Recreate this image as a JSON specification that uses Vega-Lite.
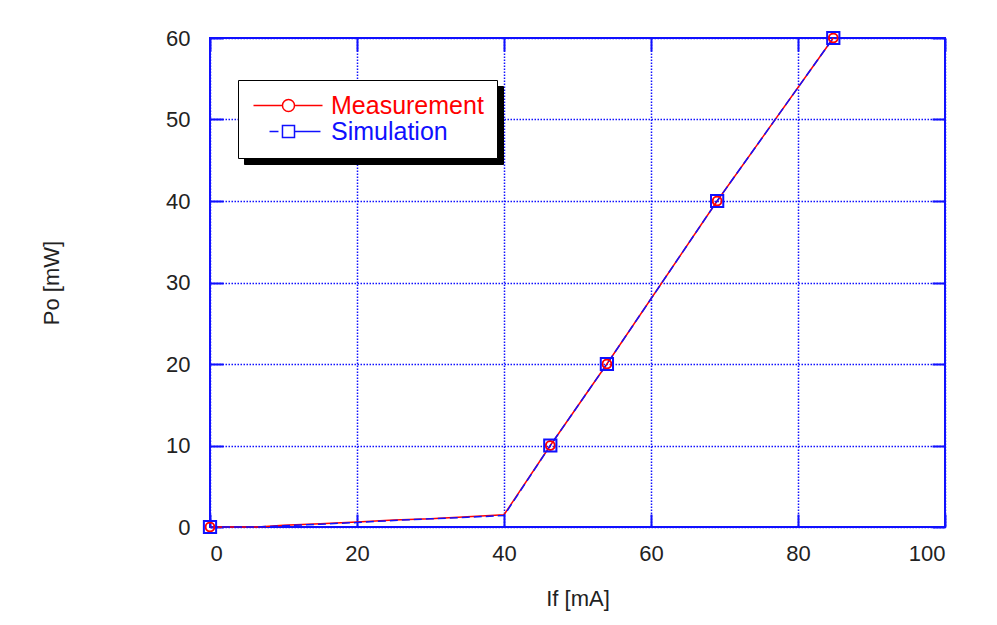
{
  "$schema": "https://vega.github.io/schema/vega-lite/v6.json",
  "autosize": "none",
  "width": 735,
  "height": 489,
  "padding": {"left": 210, "top": 38, "right": 52, "bottom": 98},
  "background": "white",
  "config": {
    "font": "Liberation Sans",
    "view": {"stroke": "#1010ff", "strokeWidth": 2},
    "axis": {
      "labelFont": "Liberation Sans",
      "titleFont": "Liberation Sans",
      "labelFontSize": 22,
      "titleFontSize": 22,
      "titleFontWeight": "normal",
      "labelColor": "#222222",
      "titleColor": "#222222",
      "domain": false,
      "tickColor": "#1010ff",
      "tickWidth": 2,
      "tickSize": -13,
      "gridColor": "#1010ff",
      "gridDash": [1.5, 1.5],
      "gridWidth": 1.5,
      "gridOpacity": 1
    }
  },
  "data": {
    "values": [
      {"series": "Measurement", "x": 0, "y": 0, "m": 1},
      {"series": "Measurement", "x": 6.5, "y": 0, "m": 0},
      {"series": "Measurement", "x": 10, "y": 0.2, "m": 0},
      {"series": "Measurement", "x": 15, "y": 0.4, "m": 0},
      {"series": "Measurement", "x": 20, "y": 0.6, "m": 0},
      {"series": "Measurement", "x": 25, "y": 0.85, "m": 0},
      {"series": "Measurement", "x": 30, "y": 1.0, "m": 0},
      {"series": "Measurement", "x": 35, "y": 1.25, "m": 0},
      {"series": "Measurement", "x": 40, "y": 1.5, "m": 0},
      {"series": "Measurement", "x": 46.3, "y": 10, "m": 1},
      {"series": "Measurement", "x": 54, "y": 20, "m": 1},
      {"series": "Measurement", "x": 69, "y": 40, "m": 1},
      {"series": "Measurement", "x": 84.8, "y": 60, "m": 1},
      {"series": "Simulation", "x": 0, "y": 0, "m": 1},
      {"series": "Simulation", "x": 6.5, "y": 0, "m": 0},
      {"series": "Simulation", "x": 10, "y": 0.15, "m": 0},
      {"series": "Simulation", "x": 15, "y": 0.35, "m": 0},
      {"series": "Simulation", "x": 20, "y": 0.55, "m": 0},
      {"series": "Simulation", "x": 25, "y": 0.8, "m": 0},
      {"series": "Simulation", "x": 30, "y": 1.0, "m": 0},
      {"series": "Simulation", "x": 35, "y": 1.2, "m": 0},
      {"series": "Simulation", "x": 40, "y": 1.4, "m": 0},
      {"series": "Simulation", "x": 46.3, "y": 10, "m": 1},
      {"series": "Simulation", "x": 54, "y": 20, "m": 1},
      {"series": "Simulation", "x": 69, "y": 40, "m": 1},
      {"series": "Simulation", "x": 84.8, "y": 60, "m": 1}
    ]
  },
  "resolve": {"axis": {"x": "independent", "y": "independent"}},
  "layer": [
    {
      "transform": [{"filter": "datum.series == 'Measurement'"}],
      "mark": {"type": "line", "strokeWidth": 1.5, "clip": false},
      "encoding": {
        "x": {"field": "x", "type": "quantitative", "scale": {"domain": [0, 100], "nice": false},
              "axis": {"orient": "bottom", "title": "If [mA]", "values": [0, 20, 40, 60, 80, 100], "labelPadding": 29, "titlePadding": 24}},
        "y": {"field": "y", "type": "quantitative", "scale": {"domain": [0, 60], "nice": false},
              "axis": {"orient": "left", "title": "Po [mW]", "values": [0, 10, 20, 30, 40, 50, 60], "labelPadding": 33, "titlePadding": 102}},
        "color": {"field": "series", "type": "nominal", "scale": {"domain": ["Simulation", "Measurement"], "range": ["#1010ff", "#ff0000"]},
          "legend": {
            "orient": "none", "legendX": 34, "legendY": 48, "title": null,
            "padding": 13, "fillColor": "black", "strokeColor": "black",
            "symbolSize": 196, "symbolStrokeWidth": 1.5, "labelOffset": 55,
            "symbolStrokeColor": "black", "symbolFillColor": "black",
            "symbolType": {"expr": "datum.value === 'Measurement' ? 'M-1.43,0H2.71 M4.43,0H8.43' : 'M0.86,0H2.14 M4.43,0H8.14'"},
            "labelColor": "black",
            "labelFont": "Liberation Sans", "labelFontSize": 25, "rowPadding": -3
          }
        }
      }
    },
    {
      "transform": [{"filter": "datum.series == 'Simulation'"}],
      "mark": {"type": "line", "strokeWidth": 1.5, "clip": false, "strokeDash": [8, 4]},
      "encoding": {
        "x": {"field": "x", "type": "quantitative", "axis": null},
        "y": {"field": "y", "type": "quantitative", "axis": null},
        "color": {"field": "series", "type": "nominal"}
      }
    },
    {
      "transform": [{"filter": "datum.m == 1 && datum.series == 'Measurement'"}],
      "mark": {"type": "point", "size": 80, "filled": false, "strokeWidth": 2, "clip": false, "opacity": 1},
      "encoding": {
        "x": {"field": "x", "type": "quantitative", "axis": null},
        "y": {"field": "y", "type": "quantitative", "axis": null},
        "stroke": {"field": "series", "type": "nominal", "scale": {"domain": ["Measurement", "Simulation"], "range": ["#ff0000", "#1010ff"]},
          "legend": {
            "orient": "none", "legendX": 28, "legendY": 42, "title": null,
            "padding": 13, "fillColor": "white", "strokeColor": "black",
            "symbolSize": 196, "symbolStrokeWidth": 1.5, "labelOffset": 55, "symbolOpacity": 1,
            "symbolType": {"expr": "datum.value === 'Measurement' ? 'M-1.43,0H2.71 M4.43,0H8.43 M4.43,0A0.857,0.857,0,1,1,2.71,0A0.857,0.857,0,1,1,4.43,0Z' : 'M0.86,0H2.14 M2.71,-0.857H4.43V0.857H2.71Z M4.43,0H8.14'"},
            "labelColor": {"expr": "datum.value === 'Measurement' ? '#ff0000' : '#1010ff'"},
            "labelFont": "Liberation Sans", "labelFontSize": 25, "rowPadding": -3
          }
        }
      }
    },
    {
      "transform": [{"filter": "datum.m == 1 && datum.series == 'Simulation'"}],
      "mark": {"type": "point", "shape": "square", "size": 150, "filled": false, "strokeWidth": 2, "clip": false, "opacity": 1, "color": "#1010ff"},
      "encoding": {
        "x": {"field": "x", "type": "quantitative",
              "axis": {"orient": "top", "title": null, "labels": false, "grid": false, "values": [0, 20, 40, 60, 80, 100]}},
        "y": {"field": "y", "type": "quantitative",
              "axis": {"orient": "right", "title": null, "labels": false, "grid": false, "values": [0, 10, 20, 30, 40, 50, 60]}}
      }
    }
  ]
}
